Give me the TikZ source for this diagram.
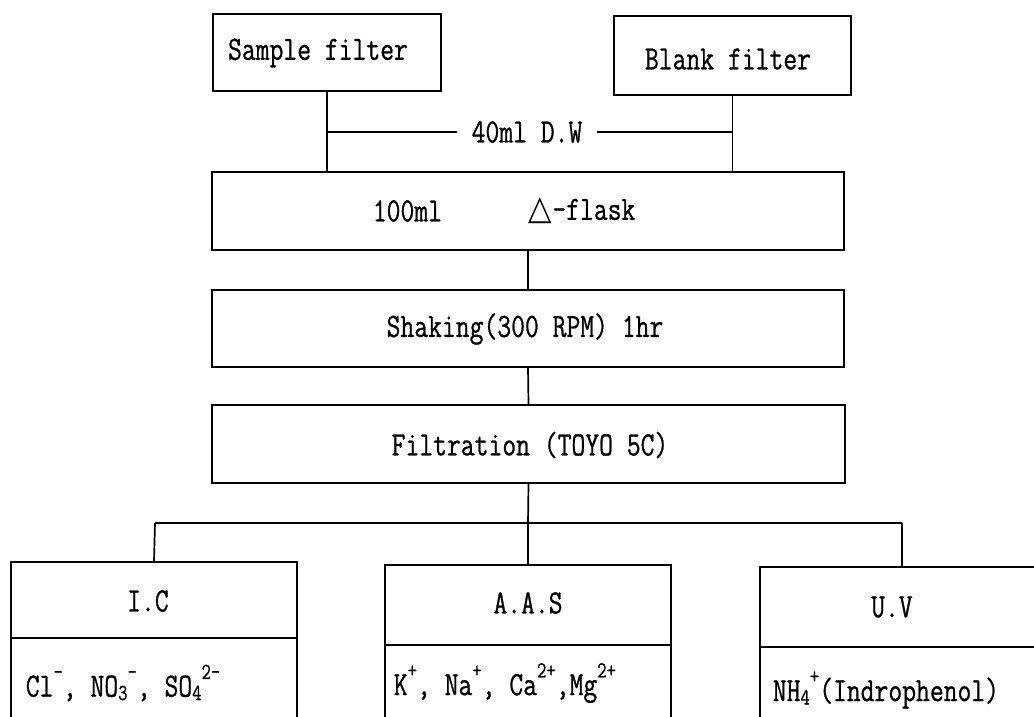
\documentclass[tikz,border=0pt]{standalone}
\usepackage{fontspec}
\setmonofont{Latin Modern Mono}[FakeStretch=0.79,FakeBold=0.7]
\newfontfamily\symfont{DejaVu Sans}[FakeStretch=0.9]
\newcommand{\sps}[1]{\raisebox{0.52em}{\fontsize{23}{23}\selectfont #1}}
\newcommand{\sbs}[1]{\raisebox{-0.1em}{\fontsize{23}{23}\selectfont #1}}
\begin{document}
\begin{tikzpicture}[x=1pt,y=-1pt,line width=1.7pt,
  box/.style={draw,rectangle,inner sep=0pt},
  lbl/.style={inner sep=0pt,font=\ttfamily\fontsize{34}{34}\selectfont}]
\useasboundingbox (0,0) rectangle (1034,716);
\clip (0,0) rectangle (1034,716);
% top boxes
\node[box,minimum width=228pt,minimum height=77pt] (sample) at (327,52.5) {};
\node[lbl] (tsample) at (318,53) {Sample filter};
\node[box,minimum width=237pt,minimum height=79pt] (blank) at (732.5,55.5) {};
\node[lbl] (tblank) at (728,59) {Blank filter};
% flask
\node[box,minimum width=632pt,minimum height=78pt] (flask) at (528,211) {};
\node[lbl,anchor=west] (t100) at (372,211) {100ml};
\node[lbl,anchor=west] (tflask) at (528,211) {{\symfont △}-flask};
% shaking
\node[box,minimum width=632pt,minimum height=77pt] (shake) at (528,328.5) {};
\node[lbl] (tshake) at (525,329) {Shaking(300 RPM) 1hr};
% filtration
\node[box,minimum width=633pt,minimum height=78pt] (filt) at (528.5,444) {};
\node[lbl] (tfilt) at (530,445) {Filtration (TOYO 5C)};
% 40 ml label and connectors
\node[lbl,inner xsep=0pt] (dw) at (527,132) {40ml D.W};
\coordinate (sj) at (327,132);
\coordinate (bj) at (732,132);
\draw (sample.south) -- (sample.south |- flask.north);
\draw (blank.south) -- (blank.south |- flask.north);
\draw (sj) -- ([xshift=-14pt]dw.west);
\draw ([xshift=14pt]dw.east) -- (bj);
\draw (flask.south) -- (shake.north);
\draw (shake.south) -- (filt.north);
% bus
\coordinate (bus) at (528,523);
\coordinate (busL) at (155,523);
\coordinate (busR) at (902,523);
\draw (filt.south) -- (bus);
\draw (busL) -- (busR);
% bottom boxes
\node[box,minimum width=286pt,minimum height=76pt] (ic) at (154,600) {};
\node[box,minimum width=286pt,minimum height=80pt] (icb) at (154,678) {};
\node[lbl] (tic) at (148,601) {I.C};
\node[lbl,anchor=west] (ticb) at (25,683) {Cl\sps{-}, NO\sbs{3}\sps{-}, SO\sbs{4}\sps{2-}};
\node[box,minimum width=286pt,minimum height=80pt] (aas) at (528,605) {};
\node[box,minimum width=286pt,minimum height=80pt] (aasb) at (528,685) {};
\node[lbl] (taas) at (528,603) {A.A.S};
\node[lbl,anchor=west] (taasb) at (393,683) {K\sps{+}, Na\sps{+}, Ca\sps{2+},Mg\sps{2+}};
\node[box,minimum width=284pt,minimum height=80pt] (uv) at (902,607) {};
\node[box,minimum width=284pt,minimum height=80pt] (uvb) at (902,687) {};
\node[lbl] (tuv) at (892,607) {U.V};
\node[lbl,anchor=west] (tuvb) at (772,690) {NH\sbs{4}\sps{+}(Indrophenol)};
\draw (busL) -- (ic.north);
\draw (bus) -- (aas.north);
\draw (busR) -- (uv.north);
\end{tikzpicture}
\end{document}
